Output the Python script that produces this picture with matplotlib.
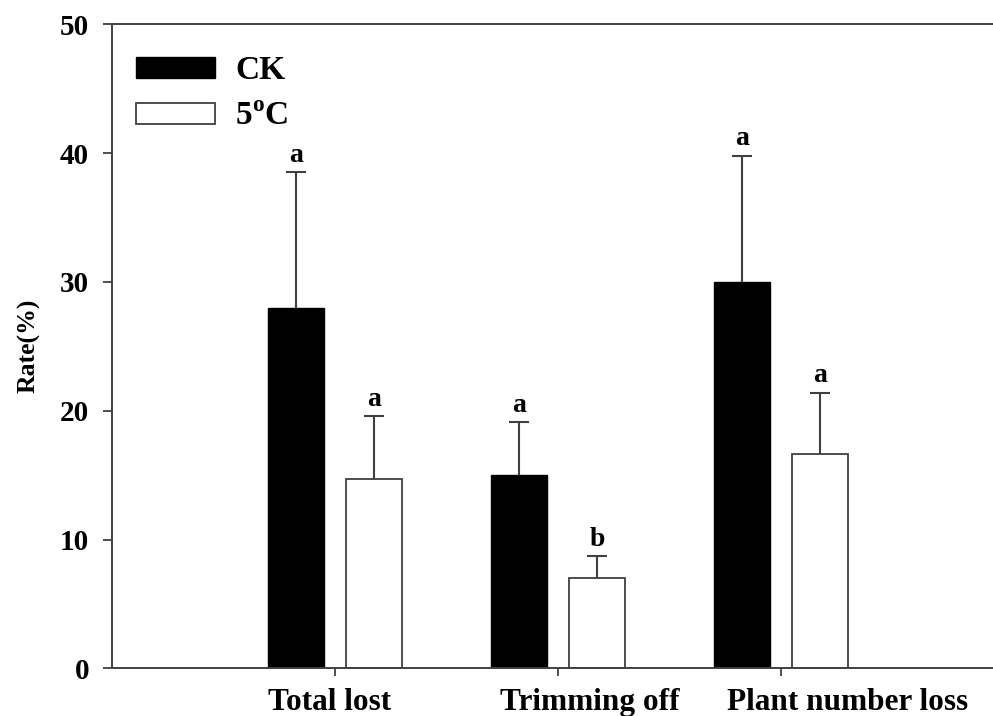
import numpy as np
import matplotlib
matplotlib.use('Agg')
import matplotlib.pyplot as plt
from matplotlib.patches import Patch
from matplotlib.transforms import ScaledTranslation

plt.rcParams['font.family'] = ['Liberation Serif', 'DejaVu Serif']
plt.rcParams['font.weight'] = 'bold'
plt.rcParams['mathtext.fontset'] = 'custom'
plt.rcParams['mathtext.rm'] = 'Liberation Serif:bold'
plt.rcParams['mathtext.bf'] = 'Liberation Serif:bold'

# data
categories = ['Total lost', 'Trimming off', 'Plant number loss']
ck_vals = [28.0, 15.0, 30.0]
ck_err = [10.5, 4.1, 9.8]
c5_vals = [14.7, 7.0, 16.6]
c5_err = [4.9, 1.7, 4.8]
ck_letters = ['a', 'a', 'a']
c5_letters = ['a', 'b', 'a']

grey = '#404040'

fig = plt.figure(figsize=(9.93, 7.16), dpi=100)
ax = fig.add_axes([0.1128, 0.0666, 0.8872 * 4 / 3.95, 0.8995])

x = np.arange(len(categories))
w = 0.25
off = 0.175

ax.bar(x - off, ck_vals, w, color='black', edgecolor='black', linewidth=1.0, zorder=2)
ax.bar(x + off, c5_vals, w, color='white', edgecolor=grey, linewidth=1.3, zorder=2)

for xs, vals, errs, letters in [(x - off, ck_vals, ck_err, ck_letters),
                                (x + off, c5_vals, c5_err, c5_letters)]:
    eb = ax.errorbar(xs, vals, yerr=[np.zeros(len(vals)), errs], fmt='none',
                     ecolor=grey, elinewidth=1.5, capsize=7, capthick=1.5, zorder=3)
    eb[1][0].set_visible(False)  # hide lower caps
    for xi, v, e, t in zip(xs, vals, errs, letters):
        ax.annotate(t, (xi, v + e), xytext=(0, 3), textcoords='offset points',
                    ha='center', va='bottom', fontsize=20, fontweight='bold')

ax.set_xlim(-1, 3)
ax.set_ylim(0, 50)
ax.set_yticks(range(0, 51, 10))
ax.set_xticks(x)
ax.set_xticklabels(categories, fontsize=22.5, fontweight='bold')
ax.tick_params(axis='y', labelsize=21, direction='out', length=6.5, width=1.3,
               color=grey, pad=10)
ax.tick_params(axis='x', direction='out', length=6, width=1.3, color=grey, pad=8)
for lab in ax.get_yticklabels():
    lab.set_fontweight('bold')

# the labels in the original sit a bit right of their ticks
label_shift_px = [-5, 32, 66]
for lab, dx in zip(ax.get_xticklabels(), label_shift_px):
    lab.set_transform(lab.get_transform() + ScaledTranslation(dx / 100, 0, fig.dpi_scale_trans))

ax.set_ylabel('Rate(%)', fontsize=18.5, fontweight='bold', labelpad=14)

for s in ['left', 'bottom', 'top']:
    ax.spines[s].set_color(grey)
    ax.spines[s].set_linewidth(1.4)
ax.spines['right'].set_visible(False)

handles = [Patch(facecolor='black', edgecolor='black'),
           Patch(facecolor='white', edgecolor=grey, linewidth=1.3)]
ax.legend(handles, ['CK', '5$^{\\mathrm{o}}$C'], loc='upper left',
          bbox_to_anchor=(0.027, 0.952), frameon=False,
          prop={'size': 24, 'weight': 'bold', 'family': 'Liberation Serif'},
          handlelength=2.37, handleheight=0.57, handletextpad=0.6,
          labelspacing=0.45, borderaxespad=0, borderpad=0)

fig.savefig('out.png', dpi=100)
